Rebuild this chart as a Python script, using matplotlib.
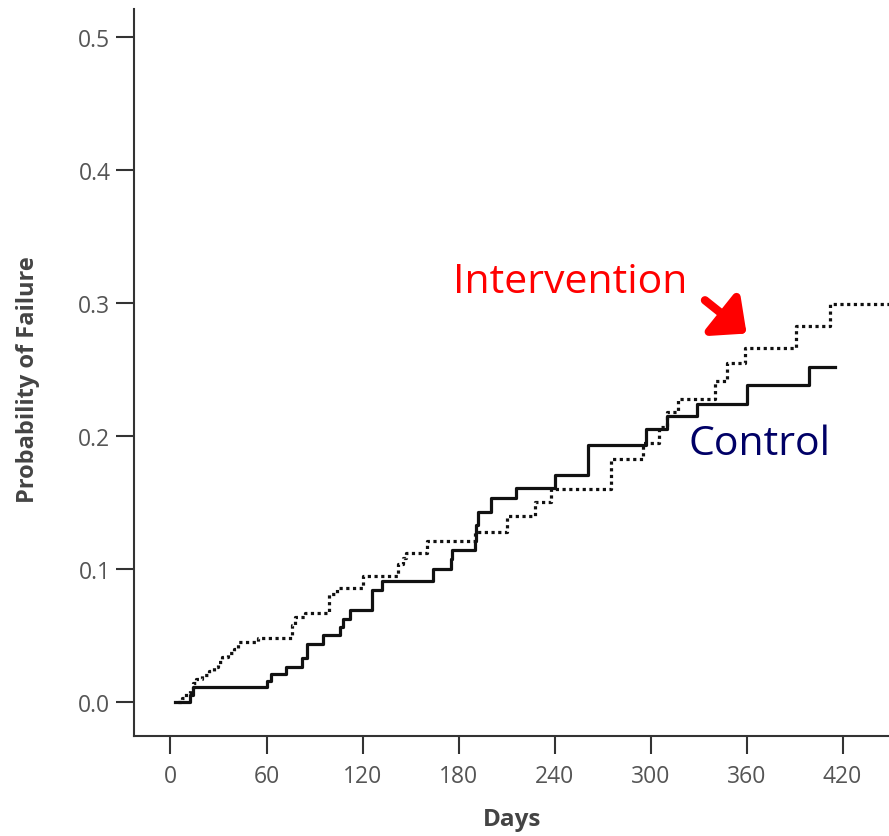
import numpy as np
import matplotlib.pyplot as plt

# control arm (solid step curve)
ctrl_days = [3, 12, 14, 60, 63, 72, 82, 85, 95, 106, 108, 112, 126, 132, 164, 175, 176,
             190, 191, 192, 200, 216, 240, 261, 297, 310, 329, 360, 399, 415]
ctrl_prob = [0.0, 0.005, 0.011, 0.016, 0.021, 0.026, 0.033, 0.0435, 0.050, 0.056, 0.062,
             0.069, 0.084, 0.091, 0.100, 0.1075, 0.114, 0.121, 0.133, 0.143, 0.153, 0.161,
             0.171, 0.193, 0.205, 0.215, 0.224, 0.238, 0.252, 0.252]

# intervention arm (dotted step curve)
int_days = [5, 7, 10, 12, 14, 16, 20, 24, 27, 30, 32, 36, 40, 42, 55, 76, 78, 84, 99, 104,
            120, 142, 145, 147, 160, 190, 210, 228, 238, 275, 295, 305, 310, 317, 340, 348,
            359, 391, 412, 449]
int_prob = [0.0, 0.003, 0.007, 0.010, 0.014, 0.017, 0.020, 0.023, 0.026, 0.030, 0.034, 0.037,
            0.040, 0.045, 0.048, 0.058, 0.064, 0.067, 0.081, 0.086, 0.095, 0.104, 0.108, 0.112,
            0.121, 0.128, 0.140, 0.150, 0.160, 0.183, 0.195, 0.207, 0.218, 0.228, 0.241, 0.255,
            0.266, 0.283, 0.299, 0.299]

xticks = [0, 60, 120, 180, 240, 300, 360, 420]
yticks = [0.0, 0.1, 0.2, 0.3, 0.4, 0.5]

W, H = 889, 837
fig = plt.figure(figsize=(W / 100, H / 100), dpi=100)
ax = fig.add_axes([134 / W, 1 - 737 / H, 1 - 134 / W, (737 - 10) / H])

ax.step(int_days, int_prob, where='post', color='#111111', lw=2.3,
        linestyle=(0, (1, 1.1)))
ax.step(ctrl_days, ctrl_prob, where='post', color='#111111', lw=2.3)

ax.set_xlim(-22.8, 449)
ax.set_ylim(-0.0256, 0.521)

for s in ['top', 'right']:
    ax.spines[s].set_visible(False)
for s in ['left', 'bottom']:
    ax.spines[s].set_linewidth(1.5)
    ax.spines[s].set_color('#333333')

ax.set_xticks(xticks)
ax.set_xticklabels([str(t) for t in xticks])
ax.set_yticks(yticks)
ax.set_yticklabels(['%.1f' % t for t in yticks])
ax.tick_params(axis='both', direction='out', length=13, width=1.5, color='#333333',
               labelsize=16.5, labelcolor='#555555')
ax.tick_params(axis='y', pad=4)
ax.tick_params(axis='x', pad=7)
for lab in ax.get_xticklabels() + ax.get_yticklabels():
    lab.set_family('Open Sans')

ax.set_ylabel('Probability of Failure', fontsize=17, fontweight='bold', color='#444444',
              family='Open Sans', va='center')
ax.yaxis.set_label_coords((28 - 134) / (W - 134), 0.5 - (380 - 373.5) / 727)
ax.set_xlabel('Days', fontsize=17.5, fontweight='bold', color='#444444', family='Open Sans',
              va='center')
ax.xaxis.set_label_coords((512 - 134) / (W - 134), -(820 - 737) / 727)

ax.text(176.6, 0.308, 'Intervention', color='red', fontsize=29.5, family='Open Sans',
        ha='left', va='baseline')
ax.text(323.4, 0.1865, 'Control', color='#000066', fontsize=29.5, family='Open Sans',
        ha='left', va='baseline')
ax.annotate('', xy=(360, 0.277), xytext=(334, 0.302),
            arrowprops=dict(arrowstyle='-|>,head_length=0.55,head_width=0.5', lw=6,
                            color='red', mutation_scale=32, shrinkA=0, shrinkB=0,
                            capstyle='round'))

fig.savefig('out.png', dpi=100)
